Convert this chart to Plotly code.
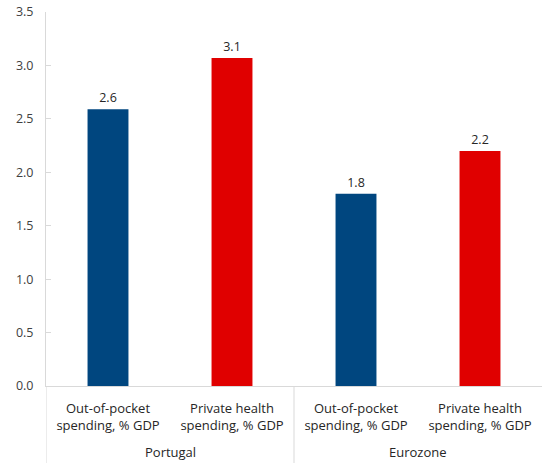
import plotly.graph_objects as go

categories = ["Out-of-pocket<br>spending, % GDP", "Private health<br>spending, % GDP",
              "Out-of-pocket<br>spending, % GDP", "Private health<br>spending, % GDP"]
groups = ["Portugal", "Eurozone"]
values = [2.59, 3.07, 1.80, 2.20]
colors = ["#00467F", "#E00000", "#00467F", "#E00000"]
y_ticks = [0, 0.5, 1.0, 1.5, 2.0, 2.5, 3.0, 3.5]

FONT = "Open Sans, Noto Sans, DejaVu Sans, sans-serif"
xs = list(range(len(values)))

fig = go.Figure(go.Bar(
    x=xs, y=values, marker=dict(color=colors, line=dict(width=0)),
    width=0.33, texttemplate="%{y:.1f}", textposition="outside",
    textfont=dict(size=12.5, color="#262626", family=FONT), cliponaxis=False,
))

axis_col = "#D9D9D9"
fig.update_layout(
    width=542, height=463, margin=dict(l=46, r=0, t=12, b=77, autoexpand=False),
    plot_bgcolor="white", paper_bgcolor="white", showlegend=False,
    font=dict(family=FONT, size=12, color="#404040"),
    xaxis=dict(range=[-0.5, 3.5], tickvals=xs, ticktext=categories, showgrid=False,
               showline=True, linecolor=axis_col, linewidth=1, ticks="", zeroline=False,
               automargin=False, ticklabelstandoff=10,
               tickfont=dict(size=13, color="#262626")),
    yaxis=dict(range=[0, 3.5], tickvals=y_ticks, ticktext=[f"{v:.1f}" for v in y_ticks],
               showgrid=False, showline=True, linecolor=axis_col, linewidth=1,
               ticks="inside", ticklen=5, tickcolor=axis_col, zeroline=False,
               automargin=False, ticklabelstandoff=9,
               tickfont=dict(size=12.5, color="#404040")),
)

for xv in [-0.5, 1.5]:
    fig.add_shape(type="line", xref="x", yref="paper", x0=xv, x1=xv, y0=0, y1=-0.21,
                  line=dict(color=axis_col, width=1))

for i, g in enumerate(groups):
    fig.add_annotation(x=0.5 + 2 * i, y=-0.176, xref="x", yref="paper", text=g,
                       showarrow=False, yanchor="middle",
                       font=dict(size=13, color="#262626", family=FONT))

fig.write_html("out.html", config={"displayModeBar": False},
               post_script="document.body.style.margin='0';document.body.style.overflow='hidden';")
